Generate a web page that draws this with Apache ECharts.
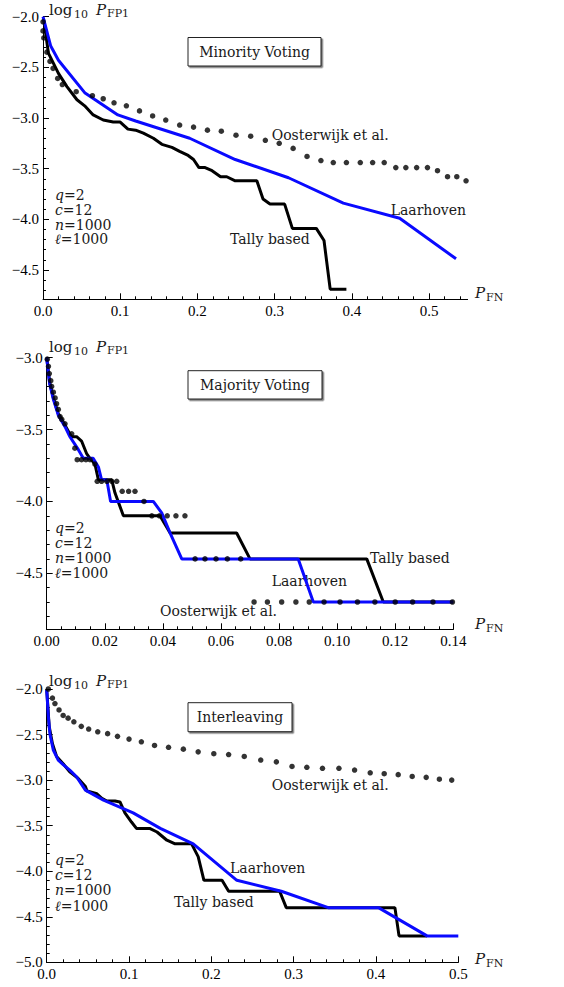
<!DOCTYPE html>
<html>
<head>
<meta charset="UTF-8">
<title>log10 P_FP1 vs P_FN</title>
<script src="https://cdn.jsdelivr.net/npm/echarts@6/dist/echarts.min.js"></script>
<style>html,body,#container{width:100%;height:100%;margin:0;padding:0;background:#fff;}</style>
</head>
<body>
<div id="container"></div>
<script>
// ---- Minority Voting ----
var mvTallyFN  = [0.001, 0.007, 0.02, 0.031, 0.044, 0.054, 0.065, 0.078, 0.091, 0.1, 0.11, 0.12, 0.13, 0.143, 0.154, 0.167, 0.177, 0.188, 0.195, 0.202, 0.21, 0.219, 0.23, 0.238, 0.249, 0.277, 0.285, 0.294, 0.313, 0.323, 0.354, 0.364, 0.372, 0.393];
var mvTallyLog = [-2.03, -2.36, -2.56, -2.69, -2.82, -2.88, -2.97, -3.02, -3.04, -3.04, -3.11, -3.12, -3.15, -3.2, -3.26, -3.29, -3.33, -3.37, -3.41, -3.49, -3.49, -3.52, -3.58, -3.58, -3.62, -3.62, -3.8, -3.85, -3.85, -4.09, -4.09, -4.21, -4.69, -4.69];
var mvLaarFN   = [0, 0.01, 0.02, 0.054, 0.097, 0.12, 0.19, 0.249, 0.318, 0.389, 0.462, 0.535];
var mvLaarLog  = [-2.0, -2.29, -2.43, -2.75, -2.97, -3.03, -3.2, -3.41, -3.59, -3.84, -3.99, -4.39];
var mvOostFN   = [0.0, 0.0, 0.001, 0.005, 0.009, 0.013, 0.019, 0.025, 0.043, 0.064, 0.078, 0.092, 0.108, 0.125, 0.142, 0.159, 0.177, 0.195, 0.213, 0.231, 0.25, 0.269, 0.288, 0.306, 0.324, 0.342, 0.36, 0.376, 0.393, 0.411, 0.427, 0.442, 0.457, 0.47, 0.484, 0.498, 0.511, 0.524, 0.536, 0.548];
var mvOostLog  = [-2.05, -2.14, -2.21, -2.35, -2.44, -2.51, -2.61, -2.67, -2.74, -2.78, -2.81, -2.85, -2.88, -2.93, -2.98, -3.02, -3.07, -3.09, -3.12, -3.13, -3.17, -3.18, -3.22, -3.25, -3.3, -3.38, -3.42, -3.44, -3.44, -3.44, -3.44, -3.44, -3.49, -3.49, -3.49, -3.49, -3.52, -3.58, -3.58, -3.62];

// ---- Majority Voting ----
var majTallyFN  = [0, 0.001, 0.0023, 0.004, 0.0063, 0.0085, 0.0103, 0.012, 0.0138, 0.0149, 0.0166, 0.0178, 0.0224, 0.0235, 0.0264, 0.039, 0.0425, 0.0654, 0.07, 0.1102, 0.1159, 0.14];
var majTallyLog = [-3.0, -3.17, -3.28, -3.39, -3.47, -3.55, -3.55, -3.58, -3.67, -3.7, -3.74, -3.85, -3.85, -3.94, -4.1, -4.1, -4.22, -4.22, -4.4, -4.4, -4.7, -4.7];
var majLaarFN   = [0, 0.001, 0.0023, 0.004, 0.0063, 0.008, 0.0109, 0.0126, 0.016, 0.0178, 0.0189, 0.0207, 0.022, 0.0367, 0.0396, 0.0425, 0.0465, 0.0866, 0.0918, 0.14];
var majLaarLog  = [-3.0, -3.18, -3.29, -3.4, -3.48, -3.55, -3.64, -3.7, -3.7, -3.76, -3.85, -3.85, -4.0, -4.0, -4.08, -4.22, -4.4, -4.4, -4.7, -4.7];
var majOostFN   = [0.0002, 0.0006, 0.0009, 0.0014, 0.0017, 0.0023, 0.0029, 0.0034, 0.004, 0.0046, 0.0052, 0.0063, 0.0086, 0.0097, 0.0105, 0.012, 0.0135, 0.0149, 0.0166, 0.0174, 0.0189, 0.0207, 0.0224, 0.0241, 0.026, 0.0282, 0.0304, 0.0335, 0.0362, 0.0388, 0.0415, 0.0445, 0.0476, 0.0511, 0.0545, 0.0583, 0.0622, 0.0668, 0.0714, 0.076, 0.0809, 0.0858, 0.0904, 0.0955, 0.101, 0.107, 0.113, 0.12, 0.126, 0.133, 0.1397];
var majOostLog  = [-3.01, -3.06, -3.11, -3.16, -3.2, -3.24, -3.28, -3.32, -3.36, -3.41, -3.43, -3.46, -3.53, -3.63, -3.71, -3.71, -3.71, -3.71, -3.74, -3.86, -3.86, -3.86, -3.86, -3.86, -3.93, -3.93, -3.93, -4.0, -4.1, -4.1, -4.1, -4.1, -4.1, -4.4, -4.4, -4.4, -4.4, -4.4, -4.7, -4.7, -4.7, -4.7, -4.7, -4.7, -4.7, -4.7, -4.7, -4.7, -4.7, -4.7, -4.7];

// ---- Interleaving ----
var intTallyFN  = [0, 0.003, 0.007, 0.012, 0.02, 0.028, 0.038, 0.047, 0.049, 0.061, 0.067, 0.073, 0.083, 0.089, 0.095, 0.103, 0.109, 0.125, 0.134, 0.146, 0.156, 0.176, 0.184, 0.191, 0.213, 0.221, 0.283, 0.291, 0.423, 0.428, 0.462];
var intTallyLog = [-2.0, -2.41, -2.6, -2.74, -2.82, -2.91, -2.98, -3.07, -3.12, -3.15, -3.2, -3.23, -3.23, -3.24, -3.36, -3.46, -3.53, -3.53, -3.57, -3.66, -3.7, -3.7, -3.84, -4.1, -4.1, -4.22, -4.22, -4.4, -4.4, -4.71, -4.71];
var intLaarFN   = [0, 0.002, 0.004, 0.008, 0.014, 0.02, 0.028, 0.036, 0.047, 0.069, 0.105, 0.138, 0.178, 0.231, 0.285, 0.342, 0.403, 0.462, 0.5];
var intLaarLog  = [-2.01, -2.3, -2.5, -2.67, -2.78, -2.83, -2.89, -2.96, -3.11, -3.22, -3.36, -3.53, -3.7, -4.1, -4.22, -4.4, -4.4, -4.71, -4.71];
var intOostFN   = [0.002, 0.007, 0.01, 0.015, 0.02, 0.026, 0.033, 0.042, 0.051, 0.062, 0.074, 0.086, 0.1, 0.115, 0.131, 0.148, 0.166, 0.184, 0.203, 0.221, 0.24, 0.26, 0.279, 0.298, 0.316, 0.335, 0.355, 0.374, 0.393, 0.41, 0.427, 0.444, 0.461, 0.477, 0.492];
var intOostLog  = [-2.0, -2.1, -2.16, -2.23, -2.29, -2.32, -2.36, -2.41, -2.44, -2.47, -2.49, -2.52, -2.55, -2.58, -2.62, -2.64, -2.66, -2.69, -2.71, -2.72, -2.74, -2.78, -2.8, -2.85, -2.86, -2.87, -2.87, -2.89, -2.92, -2.93, -2.94, -2.96, -2.97, -2.99, -3.0];

// tick labels
var xTicksMV  = [0, 0.1, 0.2, 0.3, 0.4, 0.5];
var xTicksMaj = [0, 0.02, 0.04, 0.06, 0.08, 0.10, 0.12, 0.14];
var xTicksInt = [0, 0.1, 0.2, 0.3, 0.4, 0.5];
var yTicksMV  = [-4.5, -4.0, -3.5, -3.0, -2.5, -2.0];
var yTicksMaj = [-4.5, -4.0, -3.5, -3.0];
var yTicksInt = [-5.0, -4.5, -4.0, -3.5, -3.0, -2.5, -2.0];

var titles = ['Minority Voting', 'Majority Voting', 'Interleaving'];
var params = ['{i|q}=2', '{i|c}=12', '{i|n}=1000', '{i|\u2113}=1000'];

function pairs(xs, ys) {
	return xs.map(function (x, i) { return [x, ys[i]]; });
}
// evenly spaced minor tick positions
function minorTicks(min, max, step) {
	var out = [];
	var n = Math.round((max - min) / step);
	for (var i = 0; i <= n; i++) out.push(+(min + i * step).toFixed(4));
	return out;
}

var serif = 'DejaVu Serif';
var tickFont = 'Liberation Serif';
var ink = '#1a1a1a';
var blue = '#0a0aff';

var panels = [
	{grid: {left: 43, top: 16.7, width: 424.6, height: 282.6}, xMax: 0.55, yMin: -4.79, yMax: -2,
	 xTicks: xTicksMV, xMinor: minorTicks(0, 0.54, 0.02), xDec: 1, yTicks: yTicksMV, yMinor: minorTicks(-4.7, -2, 0.1),
	 tally: pairs(mvTallyFN, mvTallyLog), laar: pairs(mvLaarFN, mvLaarLog), oost: pairs(mvOostFN, mvOostLog)},
	{grid: {left: 46.7, top: 357.7, width: 406.6, height: 271.6}, xMax: 0.14, yMin: -4.89, yMax: -3,
	 xTicks: xTicksMaj, xMinor: minorTicks(0, 0.14, 0.005), xDec: 2, yTicks: yTicksMaj, yMinor: minorTicks(-4.8, -3, 0.1),
	 tally: pairs(majTallyFN, majTallyLog), laar: pairs(majLaarFN, majLaarLog), oost: pairs(majOostFN, majOostLog)},
	{grid: {left: 46.7, top: 689, width: 411.6, height: 273.3}, xMax: 0.5, yMin: -5, yMax: -2,
	 xTicks: xTicksInt, xMinor: minorTicks(0, 0.5, 0.02), xDec: 1, yTicks: yTicksInt, yMinor: minorTicks(-5, -2, 0.1),
	 tally: pairs(intTallyFN, intTallyLog), laar: pairs(intLaarFN, intLaarLog), oost: pairs(intOostFN, intOostLog)}
];

// annotation layout (pixel positions of the text labels)
var layout = [
	{box: [188, 37.5, 133, 28.5], oost: [271.7, 135], laar: [390.7, 210], tally: [230, 239.3], par: [194.7, 209.7, 225, 239.3], yName: 10, xName: 293},
	{box: [188, 370.7, 134, 28.3], oost: [160, 610.7], laar: [271.7, 580.7], tally: [370, 558], par: [528.3, 542.7, 557.7, 572.7], yName: 347, xName: 624},
	{box: [188, 702.7, 104, 29], oost: [271.7, 785], laar: [230, 867.7], tally: [174, 901.7], par: [860, 875, 890, 905.7], yName: 681, xName: 959}
];

var fmt = function (dec) {
	return function (v) { return v.toFixed(dec).replace('-', '\u2212'); };
};

function txt(s, x, y, size, extra) {
	var st = {text: s, x: x, y: y, align: 'left', verticalAlign: 'middle', fontFamily: serif, fontSize: size, fill: ink};
	for (var k in extra) st[k] = extra[k];
	return {type: 'text', style: st};
}

var grids = [], xAxes = [], yAxes = [], series = [], graphics = [];

panels.forEach(function (p, k) {
	grids.push(p.grid);
	xAxes.push({
		type: 'value', gridIndex: k, min: 0, max: p.xMax, position: 'bottom',
		axisLine: {onZero: false, lineStyle: {color: '#000', width: 1}},
		splitLine: {show: false},
		axisTick: {inside: true, length: 6, customValues: p.xTicks, lineStyle: {color: '#000'}},
		axisLabel: {customValues: p.xTicks, formatter: fmt(p.xDec), fontFamily: tickFont, fontSize: 15, color: '#000', margin: 4}
	});
	xAxes.push({
		type: 'value', gridIndex: k, min: 0, max: p.xMax, position: 'bottom',
		axisLine: {show: false}, splitLine: {show: false}, axisLabel: {show: false},
		axisTick: {inside: true, length: 3, customValues: p.xMinor, lineStyle: {color: '#000'}}
	});
	yAxes.push({
		type: 'value', gridIndex: k, min: p.yMin, max: p.yMax, position: 'left',
		axisLine: {show: true, onZero: false, lineStyle: {color: '#000', width: 1}},
		splitLine: {show: false},
		axisTick: {show: true, inside: true, length: 6, customValues: p.yTicks, lineStyle: {color: '#000'}},
		axisLabel: {customValues: p.yTicks, formatter: fmt(1), fontFamily: tickFont, fontSize: 15, color: '#000', margin: 4}
	});
	yAxes.push({
		type: 'value', gridIndex: k, min: p.yMin, max: p.yMax, position: 'left',
		axisLine: {show: false}, splitLine: {show: false}, axisLabel: {show: false},
		axisTick: {show: true, inside: true, length: 3, customValues: p.yMinor, lineStyle: {color: '#000'}}
	});

	var xi = 2 * k, yi = 2 * k;
	series.push({
		name: 'Tally based', type: 'line', xAxisIndex: xi, yAxisIndex: yi, data: p.tally,
		showSymbol: false, symbol: 'none', lineStyle: {color: '#000', width: 3}, z: 2
	});
	series.push({
		name: 'Laarhoven', type: 'line', xAxisIndex: xi, yAxisIndex: yi, data: p.laar,
		showSymbol: false, symbol: 'none', lineStyle: {color: blue, width: 3}, z: 3
	});
	series.push({
		name: 'Oosterwijk et al.', type: 'scatter', xAxisIndex: xi, yAxisIndex: yi, data: p.oost,
		symbol: 'circle', symbolSize: 5.5, itemStyle: {color: '#000'}, z: 4
	});

	var L = layout[k];
	graphics.push({
		type: 'rect', shape: {x: L.box[0], y: L.box[1], width: L.box[2], height: L.box[3]},
		style: {fill: '#fff', stroke: '#222', lineWidth: 1, shadowColor: 'rgba(0,0,0,0.55)', shadowBlur: 1, shadowOffsetX: 1.5, shadowOffsetY: 1.5}
	});
	graphics.push(txt(titles[k], L.box[0] + L.box[2] / 2, L.box[1] + L.box[3] / 2, 14, {align: 'center'}));
	graphics.push(txt('Oosterwijk et al.', L.oost[0], L.oost[1], 14));
	graphics.push(txt('Laarhoven', L.laar[0], L.laar[1], 14));
	graphics.push(txt('Tally based', L.tally[0], L.tally[1], 14));
	params.forEach(function (s, j) {
		graphics.push(txt(s, 55, L.par[j], 14, {rich: {i: {fontFamily: serif, fontSize: 14, fontStyle: 'italic', fill: ink}}}));
	});
	// y axis name: log10 P_FP1
	var yy = L.yName;
	graphics.push(txt('log', 49, yy, 15));
	graphics.push(txt('10', 74, yy + 4, 11));
	graphics.push(txt('P', 96, yy, 15, {fontStyle: 'italic'}));
	graphics.push(txt('FP1', 107, yy + 3, 11));
	// x axis name: P_FN
	var xy = L.xName;
	graphics.push(txt('P', 475, xy, 15, {fontStyle: 'italic'}));
	graphics.push(txt('FN', 486, xy + 4, 11));
});

var myChart = echarts.init(document.getElementById('container'), null, {renderer: 'svg'});
myChart.setOption({
	animation: false,
	backgroundColor: '#fff',
	grid: grids,
	xAxis: xAxes,
	yAxis: yAxes,
	series: series,
	graphic: graphics
});

window.onresize = function () {
	myChart.resize();
};
</script>
</body>
</html>
